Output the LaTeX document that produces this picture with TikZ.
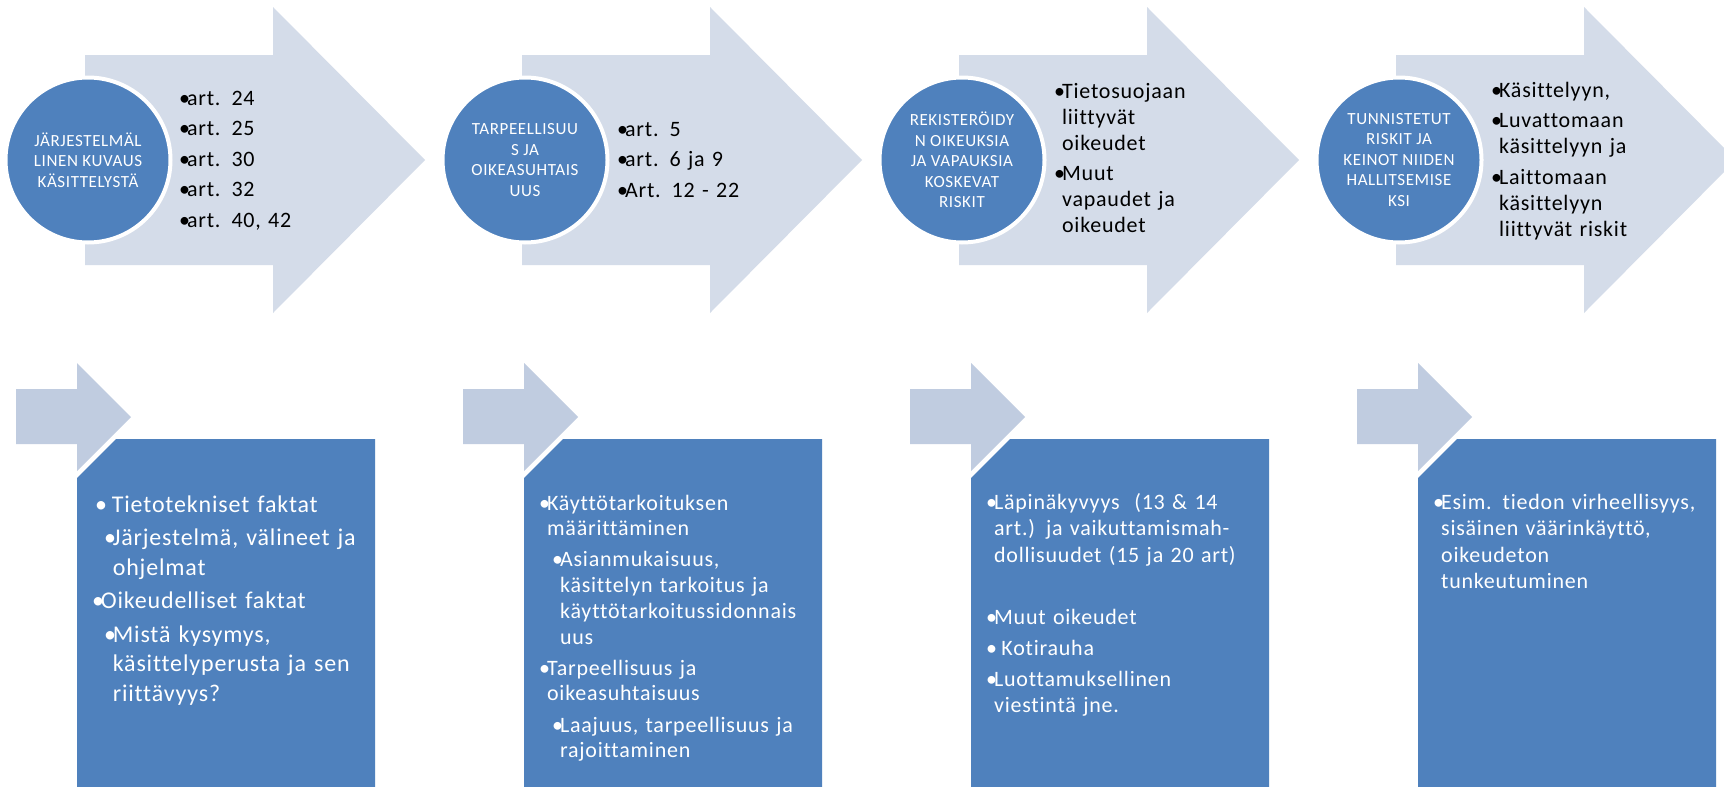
\documentclass[tikz,border=0pt]{standalone}
\usepackage{fontspec}
\setmainfont{Carlito}[LetterSpace=3.5, Ligatures=NoCommon]

\definecolor{stepblue}{RGB}{79,129,189}
\definecolor{arrowpale}{RGB}{212,220,233}
\definecolor{arrowsoft}{RGB}{192,204,224}

% bullet item with hanging indent: #1 = level indent, #2 = text
\newcommand{\itm}[2]{\hangindent=\dimexpr#1+0.36em\relax\hangafter=1
  \hspace*{#1}\makebox[0.36em][l]{•}#2\par}

\tikzset{
  bigarrow/.style={fill=arrowpale},
  smallarrow/.style={fill=arrowsoft},
  stepbox/.style={fill=stepblue},
  stepcircle/.style={circle, fill=stepblue, draw=white, line width=4,
    minimum size=165, inner sep=0, text=white, align=center,
    font=\fontsize{17}{20.5}\selectfont},
  artlist/.style={anchor=base west, inner sep=0, text width=260, align=left,
    font=\fontsize{22}{26}\selectfont,
    execute at begin node={\setlength\parskip{4.5pt}}},
  boxlist/.style={anchor=base west, inner sep=0, text width=300, align=left,
    text=white, font=\fontsize{22}{26.5}\selectfont,
    execute at begin node={\setlength\parskip{4.5pt}}},
}

\begin{document}
\begin{tikzpicture}[x=1pt, y=-1pt]
  % 1. Canvas
  \clip (0,0) rectangle (1724,787);
  \fill[white] (0,0) rectangle (1724,787);

  % 2. Big arrows (top row)
  \foreach \L in {85,522,959,1396}
    \fill[bigarrow] (\L,55) -- ++(188,0) -- ++(0,-48) -- ++(152,153)
      -- ++(-152,153) -- ++(0,-48) -- ++(-188,0) -- cycle;

  % 3. Circles
  \node[stepcircle] (c1) at (88,160)   {JÄRJESTELMÄL\\LINEN KUVAUS\\KÄSITTELYSTÄ};
  \node[stepcircle] (c2) at (525,160)  {TARPEELLISUU\\S JA\\OIKEASUHTAIS\\UUS};
  \node[stepcircle] (c3) at (962,160)  {REKISTERÖIDY\\N OIKEUKSIA\\JA VAPAUKSIA\\KOSKEVAT\\RISKIT};
  \node[stepcircle] (c4) at (1399,160) {TUNNISTETUT\\RISKIT JA\\KEINOT NIIDEN\\HALLITSEMISE\\KSI};

  % 4. Article lists in the big arrows
  \node[artlist] (l1) at (179,105)
    {\itm{0pt}{art. 24}\itm{0pt}{art. 25}\itm{0pt}{art. 30}\itm{0pt}{art. 32}\itm{0pt}{art. 40, 42}};
  \node[artlist] (l2) at (617,136)
    {\itm{0pt}{art. 5}\itm{0pt}{art. 6 ja 9}\itm{0pt}{Art. 12 - 22}};
  \node[artlist] (l3) at (1054,98)
    {\itm{0pt}{Tietosuojaan\newline liittyvät\newline oikeudet}%
     \itm{0pt}{Muut\newline vapaudet ja\newline oikeudet}};
  \node[artlist] (l4) at (1491,97)
    {\itm{0pt}{Käsittelyyn,}%
     \itm{0pt}{Luvattomaan\newline käsittelyyn ja}%
     \itm{0pt}{Laittomaan\newline käsittelyyn\newline liittyvät riskit}};

  % 5. Small arrows and boxes (bottom row)
  \foreach \B in {77,524,971,1418} {
    \fill[smallarrow] (\B-61,389) -- (\B,389) -- (\B,363) -- (\B+54,417)
      -- (\B,471) -- (\B,444) -- (\B-61,444) -- cycle;
    \fill[stepbox] (\B,478) -- (\B+39,439) -- (\B+298,439) -- (\B+298,790)
      -- (\B,790) -- cycle;
  }

  % 6. Box texts
  \node[boxlist, font=\fontsize{24}{29.5}\selectfont,
    execute at begin node={\setlength\parskip{4pt}}] (b1) at (92,512)
    {\itm{3pt}{\ Tietotekniset faktat}%
     \itm{12pt}{Järjestelmä, välineet ja\newline ohjelmat}%
     \itm{0pt}{Oikeudelliset faktat}%
     \itm{12pt}{Mistä kysymys,\newline käsittelyperusta ja sen\newline riittävyys?}};
  \node[boxlist, font=\fontsize{22}{25.7}\selectfont,
    execute at begin node={\setlength\parskip{5.5pt}}] (b2) at (539,510)
    {\itm{0pt}{Käyttötarkoituksen\newline määrittäminen}%
     \itm{13pt}{Asianmukaisuus,\newline käsittelyn tarkoitus ja\newline käyttötarkoitussidonnais\newline uus}%
     \itm{0pt}{Tarpeellisuus ja\newline oikeasuhtaisuus}%
     \itm{13pt}{Laajuus, tarpeellisuus ja\newline rajoittaminen}};
  \node[boxlist] (b3) at (986,509)
    {\itm{0pt}{Läpinäkyvyys~ (13 \& 14\newline art.) ja vaikuttamismah-\newline dollisuudet (15 ja 20 art)}%
     \mbox{}\par
     \itm{0pt}{Muut oikeudet}%
     \itm{0pt}{\ Kotirauha}%
     \itm{0pt}{Luottamuksellinen\newline viestintä jne.}};
  \node[boxlist] (b4) at (1433,509)
    {\itm{0pt}{Esim. tiedon virheellisyys,\newline sisäinen väärinkäyttö,\newline oikeudeton\newline tunkeutuminen}};
\end{tikzpicture}
\end{document}
